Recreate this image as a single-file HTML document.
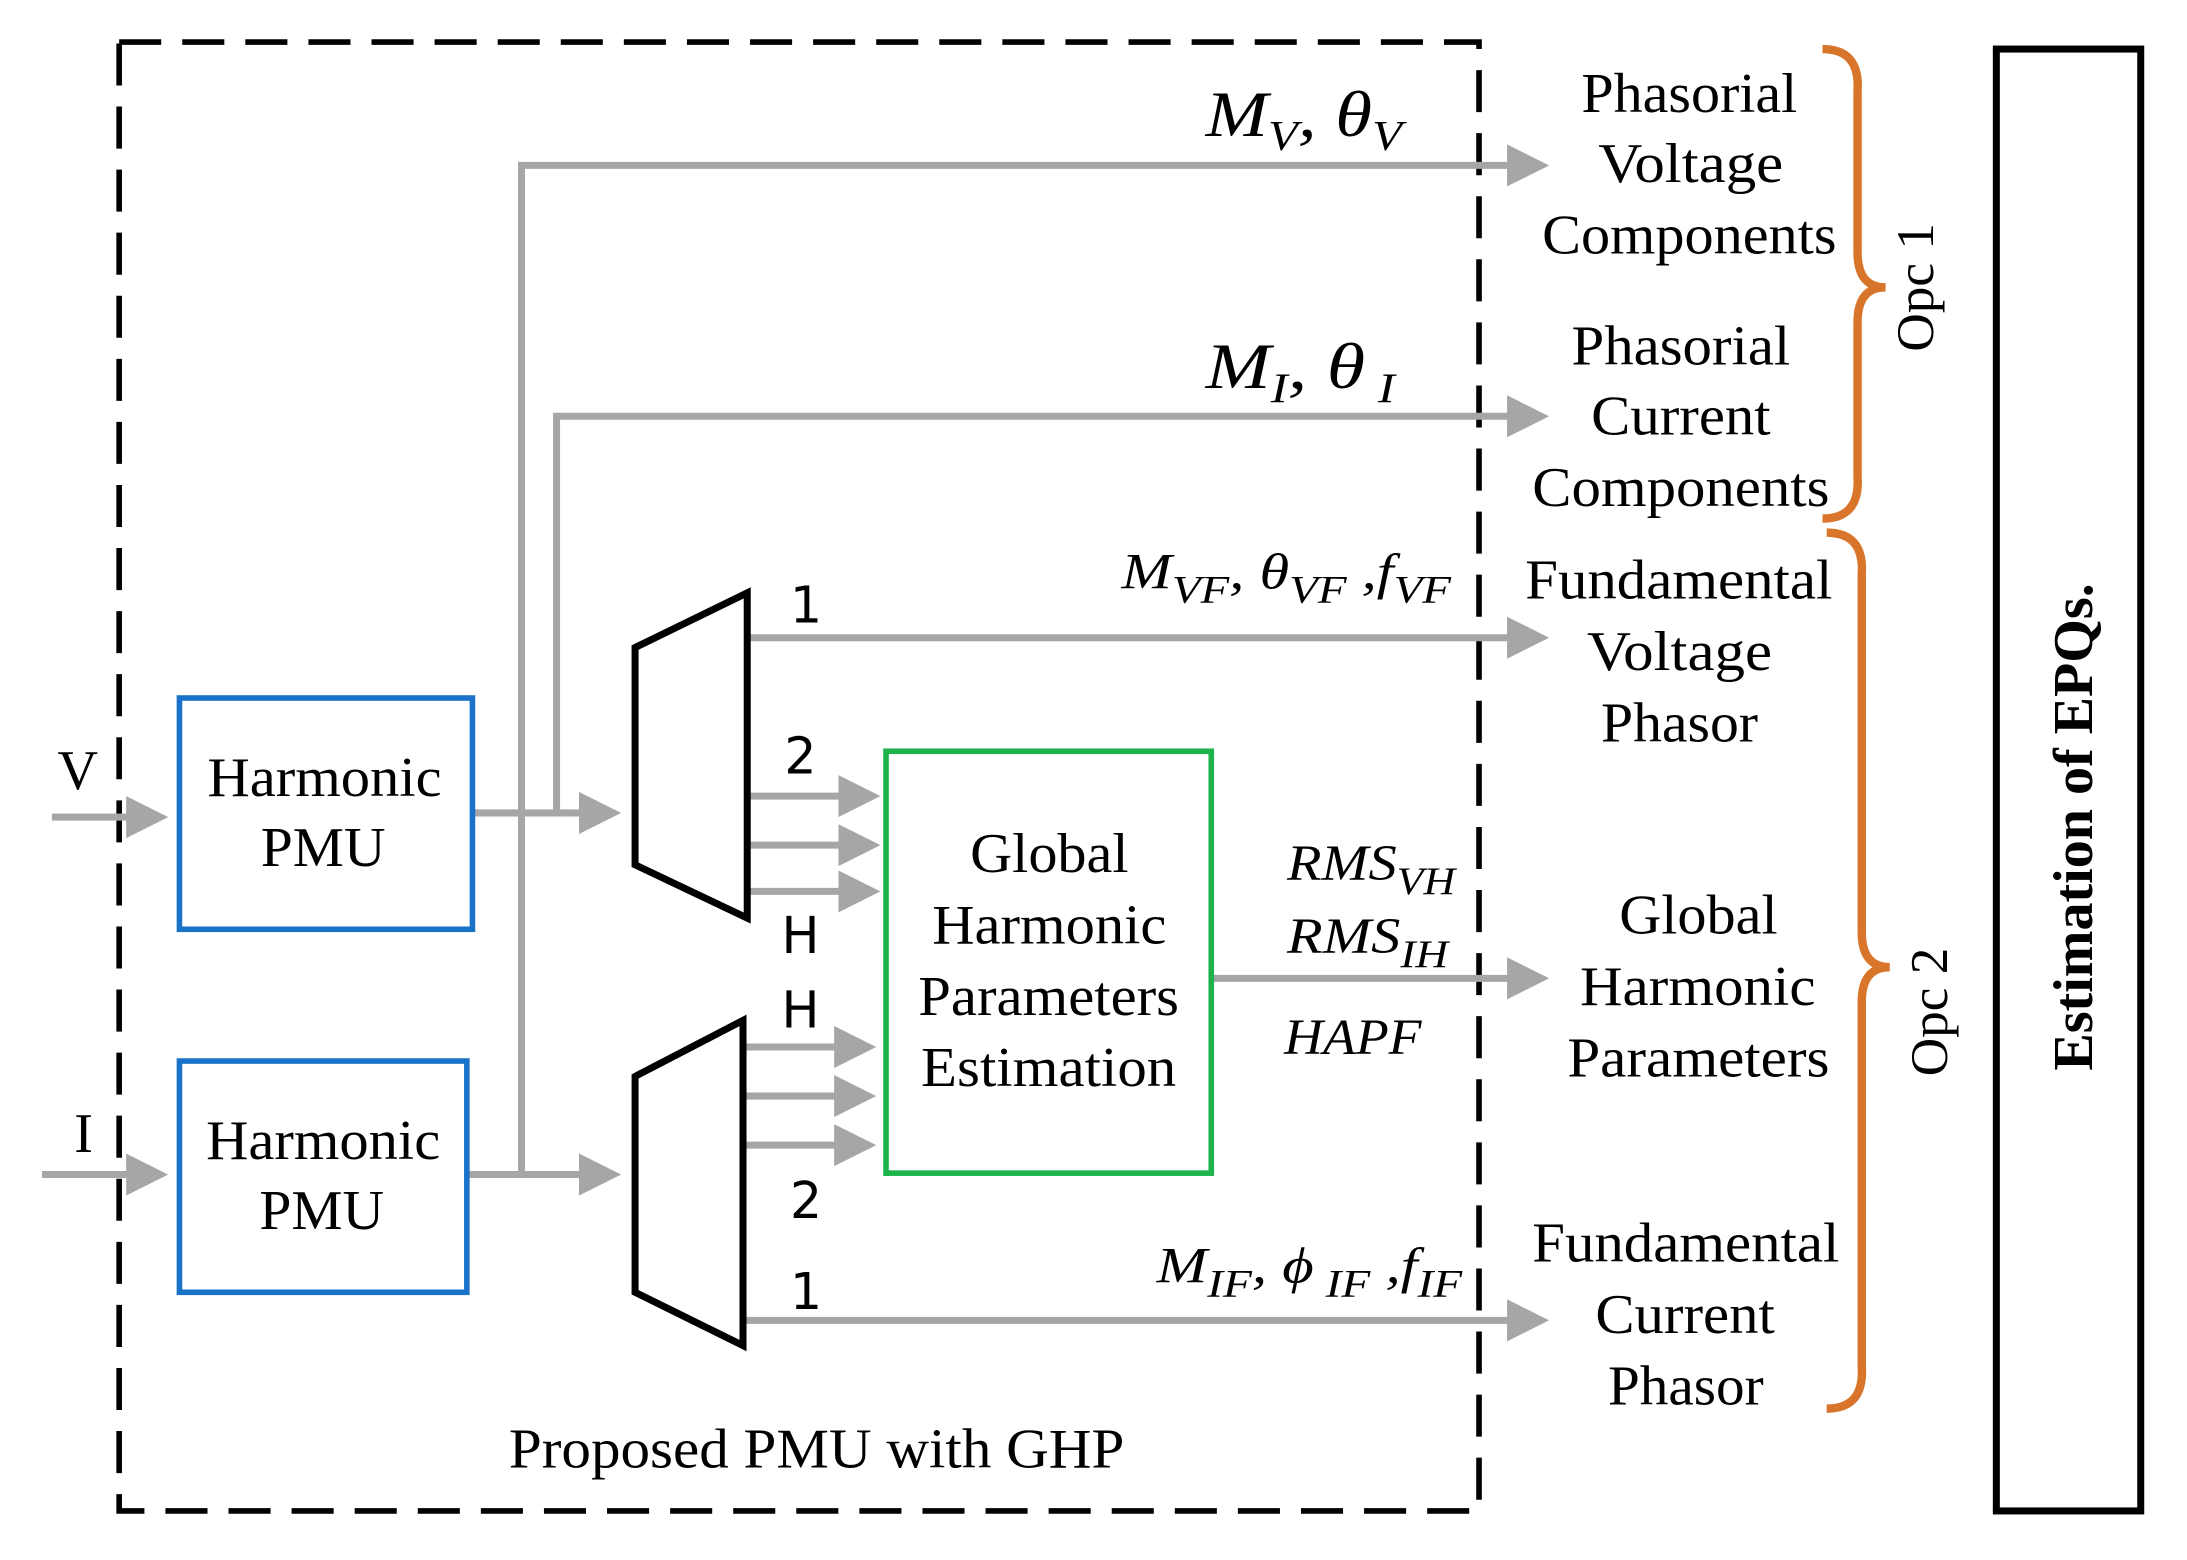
<!DOCTYPE html>
<html><head><meta charset="utf-8"><style>
html,body{margin:0;padding:0;background:#fff;}
svg{display:block;}
.s{font-family:"Liberation Serif",serif;}
.n{font-family:"DejaVu Sans","Liberation Sans",sans-serif;}
</style></head><body>
<svg width="2187" height="1560" viewBox="0 0 1560 1113" preserveAspectRatio="none" xmlns="http://www.w3.org/2000/svg">
<defs>
<marker id="a" markerWidth="6" markerHeight="6" refX="1" refY="3" orient="auto" markerUnits="strokeWidth"><path d="M0,0 L6,3 L0,6 Z" fill="#a6a6a6"/></marker>
</defs>
<rect x="85" y="30" width="970" height="1048" fill="none" stroke="#000" stroke-width="4" stroke-dasharray="30,15"/>
<rect x="1424" y="35" width="103" height="1043" fill="none" stroke="#000" stroke-width="5"/>
<text class="s" x="1483" y="590" font-size="40" font-weight="bold" text-anchor="middle" transform="rotate(-90 1483 590)" dominant-baseline="middle">Estimation of  EPQs.</text>
<g fill="none" stroke="#d9752a" stroke-width="6">
<path d="M1300,35 Q1327,35 1325,65 L1325,180 Q1325,205 1345,205 Q1325,205 1325,230 L1325,340 Q1327,370 1300,370"/>
<path d="M1303,380 Q1330,380 1328,410 L1328,665 Q1328,690 1348,690 Q1328,690 1328,715 L1328,975 Q1330,1005 1303,1005"/>
</g>
<text class="s" x="1370" y="205" font-size="38" text-anchor="middle" dominant-baseline="middle" transform="rotate(-90 1370 205)">Opc 1</text>
<text class="s" x="1380" y="722" font-size="38" text-anchor="middle" dominant-baseline="middle" transform="rotate(-90 1380 722)">Opc 2</text>
<g stroke="#a6a6a6" stroke-width="5" fill="none">
<line x1="37" y1="583" x2="95" y2="583" marker-end="url(#a)"/>
<line x1="30" y1="838" x2="95" y2="838" marker-end="url(#a)"/>
<line x1="337" y1="580" x2="418" y2="580" marker-end="url(#a)"/>
<line x1="333" y1="838" x2="418" y2="838" marker-end="url(#a)"/>
<polyline points="397,580 397,297 1080,297" marker-end="url(#a)"/>
<polyline points="372,838 372,118 1080,118" marker-end="url(#a)"/>
<line x1="533" y1="455" x2="1080" y2="455" marker-end="url(#a)"/>
<line x1="533" y1="568" x2="603" y2="568" marker-end="url(#a)"/>
<line x1="533" y1="603" x2="603" y2="603" marker-end="url(#a)"/>
<line x1="533" y1="636" x2="603" y2="636" marker-end="url(#a)"/>
<line x1="530" y1="747" x2="600" y2="747" marker-end="url(#a)"/>
<line x1="530" y1="782" x2="600" y2="782" marker-end="url(#a)"/>
<line x1="530" y1="817" x2="600" y2="817" marker-end="url(#a)"/>
<line x1="864" y1="698" x2="1080" y2="698" marker-end="url(#a)"/>
<line x1="530" y1="942" x2="1080" y2="942" marker-end="url(#a)"/>
</g>
<rect x="128" y="498" width="209" height="165" fill="#fff" stroke="#1a73c9" stroke-width="4"/>
<rect x="128" y="757" width="205" height="165" fill="#fff" stroke="#1a73c9" stroke-width="4"/>
<rect x="632" y="536" width="232" height="301" fill="#fff" stroke="#1db34a" stroke-width="4"/>
<polygon points="453,462 533,423 533,655 453,617" fill="#fff" stroke="#000" stroke-width="5"/>
<polygon points="453,768 530,728 530,960 453,922" fill="#fff" stroke="#000" stroke-width="5"/>
<g class="s" font-size="40" lengthAdjust="spacingAndGlyphs">
<text x="148" y="568" textLength="167" lengthAdjust="spacingAndGlyphs">Harmonic</text><text x="186" y="618" textLength="89" lengthAdjust="spacingAndGlyphs">PMU</text>
<text x="147" y="827" textLength="167" lengthAdjust="spacingAndGlyphs">Harmonic</text><text x="185" y="877" textLength="89" lengthAdjust="spacingAndGlyphs">PMU</text>
<text x="692" y="622" textLength="113" lengthAdjust="spacingAndGlyphs">Global</text><text x="665" y="673" textLength="167" lengthAdjust="spacingAndGlyphs">Harmonic</text><text x="655" y="724" textLength="186" lengthAdjust="spacingAndGlyphs">Parameters</text><text x="657" y="775" textLength="182" lengthAdjust="spacingAndGlyphs">Estimation</text>
<text x="1128" y="80" textLength="154" lengthAdjust="spacingAndGlyphs">Phasorial</text><text x="1140" y="130" textLength="132" lengthAdjust="spacingAndGlyphs">Voltage</text><text x="1100" y="181" textLength="210" lengthAdjust="spacingAndGlyphs">Components</text>
<text x="1121" y="260" textLength="156" lengthAdjust="spacingAndGlyphs">Phasorial</text><text x="1135" y="310" textLength="128" lengthAdjust="spacingAndGlyphs">Current</text><text x="1093" y="361" textLength="212" lengthAdjust="spacingAndGlyphs">Components</text>
<text x="1088" y="427" textLength="219" lengthAdjust="spacingAndGlyphs">Fundamental</text><text x="1132" y="478" textLength="132" lengthAdjust="spacingAndGlyphs">Voltage</text><text x="1142" y="529" textLength="112" lengthAdjust="spacingAndGlyphs">Phasor</text>
<text x="1155" y="666" textLength="113" lengthAdjust="spacingAndGlyphs">Global</text><text x="1127" y="717" textLength="168" lengthAdjust="spacingAndGlyphs">Harmonic</text><text x="1118" y="768" textLength="187" lengthAdjust="spacingAndGlyphs">Parameters</text>
<text x="1093" y="900" textLength="219" lengthAdjust="spacingAndGlyphs">Fundamental</text><text x="1138" y="951" textLength="128" lengthAdjust="spacingAndGlyphs">Current</text><text x="1147" y="1002" textLength="111" lengthAdjust="spacingAndGlyphs">Phasor</text>
<text x="363" y="1047" textLength="439" lengthAdjust="spacingAndGlyphs">Proposed PMU with GHP</text>
<text x="41" y="563">V</text><text x="53" y="822">I</text>
</g>
<g class="n" font-size="36" text-anchor="middle">
<text x="575" y="444">1</text><text x="571" y="552">2</text><text x="571" y="680">H</text>
<text x="571" y="733">H</text><text x="575" y="869">2</text><text x="575" y="934">1</text>
</g>
<g class="s" font-style="italic">
<text x="860" y="97" font-size="46" textLength="140" lengthAdjust="spacingAndGlyphs">M<tspan font-size="30" dy="10">V</tspan><tspan dy="-10">, θ</tspan><tspan font-size="30" dy="10">V</tspan></text>
<text x="860" y="277" font-size="46" textLength="135" lengthAdjust="spacingAndGlyphs">M<tspan font-size="30" dy="10">I</tspan><tspan dy="-10">, θ</tspan><tspan font-size="30" dy="10"> I</tspan></text>
<text x="800" y="420" font-size="36" textLength="235" lengthAdjust="spacingAndGlyphs">M<tspan font-size="28" dy="10">VF</tspan><tspan dy="-10">, θ</tspan><tspan font-size="28" dy="10">VF</tspan><tspan dy="-10"> ,f</tspan><tspan font-size="28" dy="10">VF</tspan></text>
<text x="918" y="628" font-size="36" textLength="120" lengthAdjust="spacingAndGlyphs">RMS<tspan font-size="28" dy="10">VH</tspan></text>
<text x="918" y="680" font-size="36" textLength="115" lengthAdjust="spacingAndGlyphs">RMS<tspan font-size="28" dy="10">IH</tspan></text>
<text x="916" y="752" font-size="36" textLength="98" lengthAdjust="spacingAndGlyphs">HAPF</text>
<text x="825" y="915" font-size="36" textLength="218" lengthAdjust="spacingAndGlyphs">M<tspan font-size="28" dy="10">IF</tspan><tspan dy="-10">, ϕ</tspan><tspan font-size="28" dy="10"> IF</tspan><tspan dy="-10"> ,f</tspan><tspan font-size="28" dy="10">IF</tspan></text>
</g>
</svg>
</body></html>
